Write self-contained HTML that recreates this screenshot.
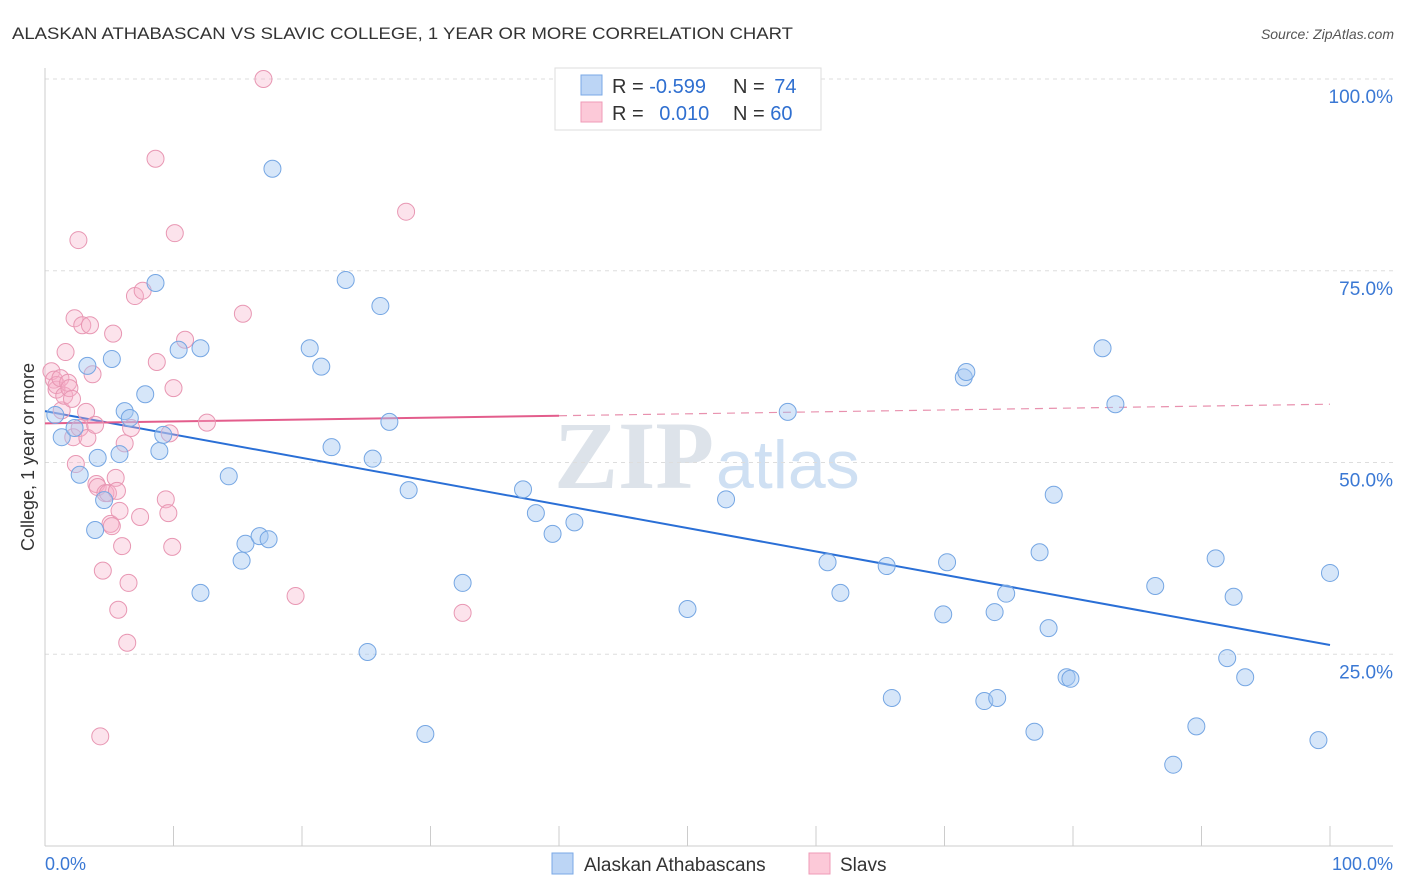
<!DOCTYPE html>
<html><head><meta charset="utf-8"><style>
body{margin:0;background:#fff;font-family:"Liberation Sans",sans-serif;}
svg{display:block}
</style></head><body>
<svg id="chart" width="1406" height="892" xmlns="http://www.w3.org/2000/svg">
<text x="12" y="39" font-size="17" fill="#333" textLength="781" lengthAdjust="spacingAndGlyphs">ALASKAN ATHABASCAN VS SLAVIC COLLEGE, 1 YEAR OR MORE CORRELATION CHART</text>
<text x="1394" y="39" font-size="14" fill="#555" font-style="italic" text-anchor="end">Source: ZipAtlas.com</text>
<text x="714" y="488" font-size="96" fill="#dde3ea" text-anchor="end" font-family="Liberation Serif" font-weight="bold">ZIP</text>
<text x="716" y="488" font-size="68" fill="#cfe0f3">atlas</text>
<g id="grid"></g><g id="axes"></g><g id="trend"></g><g id="points"></g>
<text transform="translate(34,457) rotate(-90)" font-size="18" fill="#333" text-anchor="middle">College, 1 year or more</text>
<g>
<rect x="555" y="68" width="266" height="62" fill="#fff" stroke="#ddd"/>
<rect x="581" y="75" width="21" height="20" fill="#bcd5f5" stroke="#7aa8e6"/>
<rect x="581" y="102" width="21" height="20" fill="#fcc9d8" stroke="#ef9bb7"/>
<text x="612" y="93" font-size="20" fill="#333">R = <tspan fill="#2f6fd0">-0.599</tspan></text>
<text x="733" y="93" font-size="20" fill="#333">N = <tspan fill="#2f6fd0" dx="4">74</tspan></text>
<text x="612" y="120" font-size="20" fill="#333">R = <tspan fill="#2f6fd0" dx="10">0.010</tspan></text>
<text x="733" y="120" font-size="20" fill="#333">N = <tspan fill="#2f6fd0">60</tspan></text>
</g>
<g>
<rect x="552" y="853" width="21" height="21" fill="#bcd5f5" stroke="#7aa8e6"/>
<text x="584" y="871" font-size="19" fill="#333">Alaskan Athabascans</text>
<rect x="809" y="853" width="21" height="21" fill="#fcc9d8" stroke="#ef9bb7"/>
<text x="840" y="871" font-size="19" fill="#333">Slavs</text>
</g>
</svg>
<script>
const yTicks=[25,50,75,100];
const yTickLabels=["25.0%","50.0%","75.0%","100.0%"];
const xTickLabels=["0.0%","100.0%"];
const blueX=[0.8,1.3,2.7,2.3,3.3,3.9,4.1,4.6,5.2,5.8,6.2,6.6,7.8,8.6,8.9,9.2,10.4,12.1,12.1,14.3,15.3,15.6,16.7,17.4,17.7,20.6,21.5,22.3,23.4,25.1,25.5,26.1,26.8,28.3,29.6,32.5,37.2,38.2,39.5,41.2,50.0,53.0,57.8,60.9,61.9,65.5,65.9,69.9,70.2,71.5,71.7,73.1,73.9,74.1,74.8,77.0,77.4,78.1,78.5,79.5,79.8,82.3,83.3,86.4,87.8,89.6,91.1,92.0,92.5,93.4,99.1,100.0];
const blueY=[56.2,53.3,48.4,54.5,62.6,41.2,50.6,45.1,63.5,51.1,56.7,55.8,58.9,73.4,51.5,53.6,64.7,33.0,64.9,48.2,37.2,39.4,40.4,40.0,88.3,64.9,62.5,52.0,73.8,25.3,50.5,70.4,55.3,46.4,14.6,34.3,46.5,43.4,40.7,42.2,30.9,45.2,56.6,37.0,33.0,36.5,19.3,30.2,37.0,61.1,61.8,18.9,30.5,19.3,32.9,14.9,38.3,28.4,45.8,22.0,21.8,64.9,57.6,33.9,10.6,15.6,37.5,24.5,32.5,22.0,13.8,35.6];
const pinkX=[0.5,0.7,0.9,0.9,1.2,1.3,1.5,1.6,1.8,1.9,2.1,2.2,2.3,2.4,2.6,2.7,2.9,3.2,3.3,3.5,3.7,3.9,4.0,4.1,4.3,4.5,4.7,4.9,5.1,5.2,5.3,5.5,5.6,5.7,5.8,6.0,6.2,6.4,6.5,6.7,7.0,7.4,7.6,8.6,8.7,9.4,9.6,9.7,9.9,10.0,10.1,10.9,12.6,15.4,17.0,19.5,28.1,32.5];
const pinkY=[61.9,60.8,59.5,60.1,61.0,56.8,58.7,64.4,60.4,59.7,58.3,53.3,68.8,49.8,79.0,54.5,67.9,56.6,53.2,67.9,61.5,54.9,47.2,46.8,14.3,35.9,46.0,46.0,42.0,41.7,66.8,48.0,46.3,30.8,43.7,39.1,52.5,26.5,34.3,54.5,71.7,42.9,72.4,89.6,63.1,45.2,43.4,53.8,39.0,59.7,79.9,66.0,55.2,69.4,100.0,32.6,82.7,30.4];
const blueTrend=[56.7,26.2];
const pinkTrend=[55.1,57.6];
const pinkSolidEnd=40;
const NS="http://www.w3.org/2000/svg";
const X=v=>45+v*12.85, Y=v=>846-v*7.67;
function mk(tag,attrs,parent){const e=document.createElementNS(NS,tag);for(const k in attrs)e.setAttribute(k,attrs[k]);document.getElementById(parent).appendChild(e);return e;}
yTicks.forEach((t,i)=>{
 const g=mk('line',{x1:45,x2:1393,y1:Y(t),y2:Y(t),stroke:'#ddd','stroke-dasharray':'4,4'},'grid');
 
 
 const l=mk('text',{x:1393,y:Y(t)+24,'font-size':19,fill:'#3a78d4','text-anchor':'end'},'grid');
 l.textContent=yTickLabels[i];
 
 
});
const ax=mk('line',{x1:45,x2:45,y1:68,y2:846,stroke:'#ccc'},'axes');


const bx=mk('line',{x1:45,x2:1393,y1:846,y2:846,stroke:'#ccc'},'axes');


for(let i=1;i<=10;i++){
 const t=mk('line',{x1:X(i*10),x2:X(i*10),y1:826,y2:846,stroke:'#ccc'},'axes');
 
 
}
[[0,'start',45],[100,'end',1393]].forEach((d,i)=>{
 const t=mk('text',{x:d[2],y:870,'font-size':18,fill:'#3a78d4','text-anchor':d[1]},'axes');
 t.textContent=xTickLabels[i];
 
 
});
function pts(xs,ys,fill,stroke,name){xs.forEach((x,i)=>{
 const c=mk('circle',{cx:X(x),cy:Y(ys[i]),r:8.5,fill:fill,stroke:stroke,'stroke-width':1},'points');
 
 
});}
pts(pinkX,pinkY,'rgba(246,175,200,0.35)','#e897b3','slavs-point');
pts(blueX,blueY,'rgba(165,200,242,0.45)','#75a6e3','athabascan-point');
const bt=mk('line',{x1:X(0),y1:Y(blueTrend[0]),x2:X(100),y2:Y(blueTrend[1]),stroke:'#2a6fd6','stroke-width':2},'trend');


const pm=pinkTrend[0]+(pinkTrend[1]-pinkTrend[0])*pinkSolidEnd/100;
const ps=mk('line',{x1:X(0),y1:Y(pinkTrend[0]),x2:X(pinkSolidEnd),y2:Y(pm),stroke:'#e35d8c','stroke-width':2},'trend');


const pd=mk('line',{x1:X(pinkSolidEnd),y1:Y(pm),x2:X(100),y2:Y(pinkTrend[1]),stroke:'#e891ae','stroke-width':1.2,'stroke-dasharray':'8,6'},'trend');


</script>
</body></html>
